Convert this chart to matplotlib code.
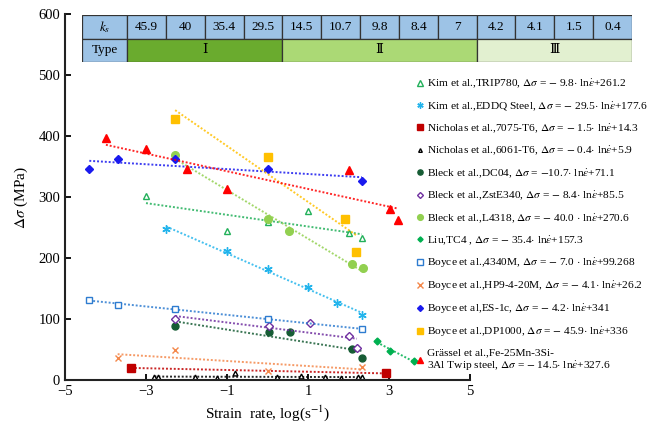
import numpy as np
import matplotlib
matplotlib.use("Agg")
import matplotlib.pyplot as plt
from matplotlib.patches import Rectangle

plt.rcParams['font.family'] = ['Liberation Serif', 'DejaVu Serif', 'Noto Sans CJK SC']
plt.rcParams['mathtext.fontset'] = 'stix'

# ---- data ----
trip780_x = [-3.0, -1.0, 0.01, 1.0, 2.01, 2.33]
trip780_y = [302, 244, 259, 277, 241, 233]

eddq_x = [-2.5, -1.0, 0.01, 1.0, 1.72, 2.33]
eddq_y = [247, 211, 183, 152, 126, 107]

al7075_x = [-3.37, 2.93]
al7075_y = [20, 11]

al6061_x = [-2.79, -2.70, -1.79, -1.25, -0.79, 0.24, 0.84, 1.42, 1.81, 2.23, 2.33]
al6061_y = [5, 5, 5, 4, 11, 5, 6, 5, 3, 5, 5]

dc04_x = [-2.28, 0.04, 0.56, 2.09, 2.33]
dc04_y = [88, 79, 79, 51, 36]

zste340_x = [-2.28, 0.04, 1.05, 2.01, 2.21]
zste340_y = [100, 88, 93, 72, 53]

l4318_x = [-2.28, 0.01, 0.53, 2.09, 2.36]
l4318_y = [369, 264, 244, 190, 184]

tc4_x = [2.7, 3.02, 3.62]
tc4_y = [64, 48, 31]

m4340_x = [-4.4, -3.7, -2.28, 0.01, 2.33]
m4340_y = [132, 123, 117, 100, 84]

hp9_x = [-3.7, -2.28, 0.01, 2.33]
hp9_y = [37, 50, 15, 22]

es1c_x = [-4.4, -3.7, -2.28, 0.01, 2.33]
es1c_y = [346, 362, 362, 346, 326]

dp1000_x = [-2.28, 0.01, 1.92, 2.19]
dp1000_y = [428, 366, 264, 210]

twip_x = [-3.99, -3.0, -1.99, -1.0, 2.01, 3.02, 3.22]
twip_y = [397, 379, 346, 313, 344, 280, 262]

labels = [
    r'Kim et al.,TRIP780, $\Delta\sigma$ = $-$ 9.8$\cdot$ ln$\dot{\varepsilon}$+261.2',
    r'Kim et al.,EDDQ Steel, $\Delta\sigma$ = $-$ 29.5$\cdot$ ln$\dot{\varepsilon}$+177.6',
    r'Nicholas et al.,7075-T6, $\Delta\sigma$ = $-$ 1.5$\cdot$ ln$\dot{\varepsilon}$+14.3',
    r'Nicholas et al.,6061-T6, $\Delta\sigma$ = $-$ 0.4$\cdot$ ln$\dot{\varepsilon}$+5.9',
    r'Bleck et al.,DC04, $\Delta\sigma$ = $-$10.7$\cdot$ ln$\dot{\varepsilon}$+71.1',
    r'Bleck et al.,ZstE340, $\Delta\sigma$ = $-$ 8.4$\cdot$ ln$\dot{\varepsilon}$+85.5',
    r'Bleck et al.,L4318, $\Delta\sigma$ = $-$ 40.0 $\cdot$ ln$\dot{\varepsilon}$+270.6',
    r'Liu,TC4 , $\Delta\sigma$ = $-$ 35.4$\cdot$ ln$\dot{\varepsilon}$+157.3',
    r'Boyce et al.,4340M, $\Delta\sigma$ = $-$ 7.0 $\cdot$ ln$\dot{\varepsilon}$+99.268',
    r'Boyce et al.,HP9-4-20M, $\Delta\sigma$ = $-$ 4.1$\cdot$ ln$\dot{\varepsilon}$+26.2',
    r'Boyce et al,ES-1c, $\Delta\sigma$ = $-$ 4.2$\cdot$ ln$\dot{\varepsilon}$+341',
    r'Boyce et al.,DP1000, $\Delta\sigma$ = $-$ 45.9$\cdot$ ln$\dot{\varepsilon}$+336',
    'Grässel et al.,Fe-25Mn-3Si-\n3Al Twip steel, ' + r'$\Delta\sigma$ = $-$ 14.5$\cdot$ ln$\dot{\varepsilon}$+327.6',
]

ks_values = ['45.9', '40', '35.4', '29.5', '14.5', '10.7', '9.8', '8.4', '7', '4.2', '4.1', '1.5', '0.4']
type_names = ['Ⅰ', 'Ⅱ', 'Ⅲ']
type_spans = [4, 5, 4]
type_colors = ['#6aab2e', '#abd975', '#e2f0d0']

# (x, y, color, marker, filled, size)
series = [
    (trip780_x, trip780_y, '#22b05a', '^', False, 5),
    (eddq_x, eddq_y, '#22b4ec', (6, 2, 0), True, 6),
    (al7075_x, al7075_y, '#c00000', 's', True, 5.5),
    (al6061_x, al6061_y, '#000000', '^', False, 3.5),
    (dc04_x, dc04_y, '#165c34', 'o', True, 5),
    (zste340_x, zste340_y, '#7030a0', 'D', False, 4),
    (l4318_x, l4318_y, '#92d050', 'o', True, 5.5),
    (tc4_x, tc4_y, '#00b050', 'D', True, 3.5),
    (m4340_x, m4340_y, '#2e7cd0', 's', False, 5),
    (hp9_x, hp9_y, '#f4884b', 'x', False, 5),
    (es1c_x, es1c_y, '#1a1aee', 'D', True, 4),
    (dp1000_x, dp1000_y, '#ffc000', 's', True, 5.5),
    (twip_x, twip_y, '#ff0000', '^', True, 5.5),
]

fig = plt.figure(figsize=(6.5, 4.3), dpi=100)
ax = fig.add_axes([0.1, 0.116, 0.623, 0.851])

for (x, y, c, m, filled, ms), lab in zip(series, labels):
    x = np.array(x)
    y = np.array(y)
    k, b = np.polyfit(x, y, 1)
    xx = np.array([x.min(), x.max()])
    ax.plot(xx, k * xx + b, linestyle=(0, (1, 1)), color=c, lw=1.4, alpha=0.85)
    ax.plot(x, y, linestyle='none', marker=m, ms=ms, color=c,
            mfc=c if filled else 'white', mec=c, mew=1.0, label=lab)

ax.set_xlim(-5, 5)
ax.set_ylim(0, 600)
ax.set_xticks(np.arange(-5, 6, 2))
ax.set_yticks(np.arange(0, 601, 100))
ax.tick_params(direction='in', labelsize=10.5, width=1.3, length=4)
for s in ['top', 'right']:
    ax.spines[s].set_visible(False)
for s in ['left', 'bottom']:
    ax.spines[s].set_linewidth(1.5)
    ax.spines[s].set_color('#222222')
ax.set_xlabel(r'Strain  rate, log(s$^{-1}$)', fontsize=11)
ax.set_ylabel(r'$\Delta\sigma$ (MPa)', fontsize=11, labelpad=6)

ax.legend(loc='upper left', bbox_to_anchor=(0.642, 0.82), bbox_transform=fig.transFigure,
          frameon=False, fontsize=8.2, handlelength=0.55, handletextpad=0.3,
          labelspacing=0.83, borderaxespad=0, borderpad=0, markerscale=0.75)

# ---- k_s / Type table ----
tab = fig.add_axes([82 / 650, 1 - 62 / 430, 550 / 650, 47 / 430])
first_w = 1.16
tab.set_xlim(0, first_w + len(ks_values))
tab.set_ylim(0, 2)
tab.axis('off')
edge = '#333333'
tab.add_patch(Rectangle((0, 1), first_w, 1, fc='#9dc3e6', ec=edge, lw=0.9))
tab.text(first_w / 2, 1.5, r'$k_s$', ha='center', va='center', fontsize=9.5)
for i, v in enumerate(ks_values):
    tab.add_patch(Rectangle((first_w + i, 1), 1, 1, fc='#9dc3e6', ec=edge, lw=0.9))
    tab.text(first_w + i + 0.5, 1.5, v, ha='center', va='center', fontsize=9.5)
tab.add_patch(Rectangle((0, 0), first_w, 1, fc='#9dc3e6', ec=edge, lw=0.9))
tab.text(first_w / 2, 0.5, 'Type', ha='center', va='center', fontsize=9.5)
x0 = first_w
for name, span, col in zip(type_names, type_spans, type_colors):
    tab.add_patch(Rectangle((x0, 0), span, 1, fc=col, ec=edge, lw=0.9))
    tab.text(x0 + span / 2, 0.5, name, ha='center', va='center', fontsize=9.5)
    x0 += span

fig.savefig('out.png', dpi=100)
